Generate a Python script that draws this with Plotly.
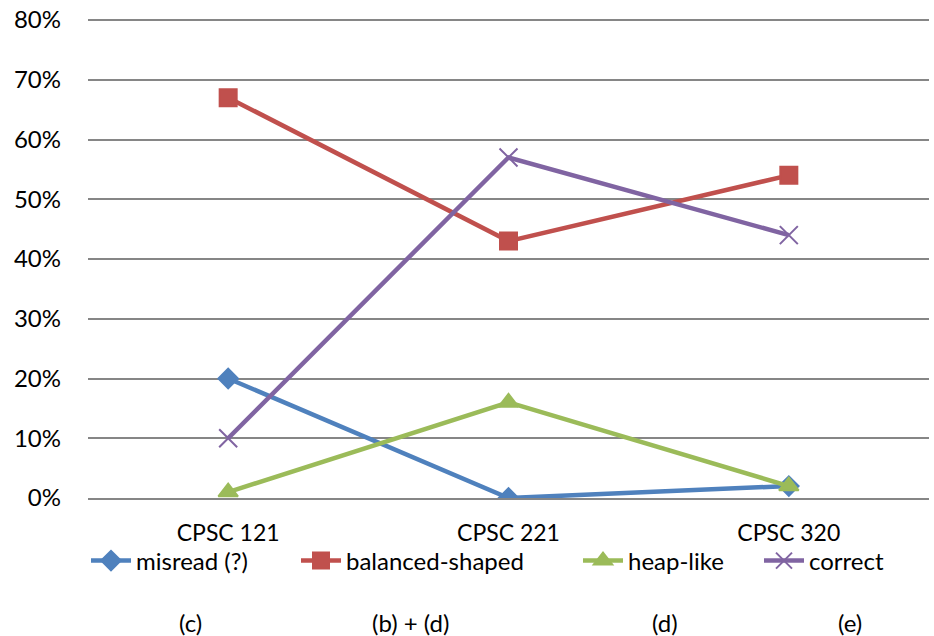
import plotly.graph_objects as go

categories = ["CPSC 121", "CPSC 221", "CPSC 320"]
series_names = ["misread (?)", "balanced-shaped", "heap-like", "correct"]
series_sub = ["(c)", "(b) + (d)", "(d)", "(e)"]
misread = [20, 0, 2]
balanced = [67, 43, 54]
heap = [1, 16, 2]
correct = [10, 57, 44]
y_ticks = [0, 10, 20, 30, 40, 50, 60, 70, 80]
y_tick_labels = ["0%", "10%", "20%", "30%", "40%", "50%", "60%", "70%", "80%"]

values = [misread, balanced, heap, correct]
colors = ["#4F81BD", "#C0504D", "#9BBB59", "#8064A2"]
symbols = ["diamond", "square", "triangle-up", "x-thin-open"]
sizes = [15, 17, 17, 18]

FONT = "Lato, 'Open Sans', sans-serif"
FS = 24

W, H = 934, 636
L, R, T = 88, 5, 19
B = H - 498
pw = W - L - R
ph = H - T - B

legend_names = ["legend", "legend2", "legend3", "legend4"]
text_start_px = [137, 347, 629, 810]
sub_px = [190, 410, 665, 850]

fig = go.Figure()
for name, vals, c, s, sz, lg in zip(series_names, values, colors, symbols, sizes, legend_names):
    fig.add_trace(go.Scatter(
        x=categories, y=vals, name=name, mode="lines+markers", legend=lg,
        line=dict(color=c, width=4.5),
        marker=dict(symbol=s, size=sz, color=c, line=dict(color=c, width=2)),
    ))

legends = {}
for lg, tx in zip(legend_names, text_start_px):
    legends[lg] = dict(orientation="h", x=(tx - 51) / W, xref="container", xanchor="left",
                       y=1 - 561 / H, yref="container", yanchor="middle",
                       font=dict(family=FONT, size=FS, color="black"), itemwidth=40,
                       bgcolor="rgba(0,0,0,0)")

for txt, px in zip(series_sub, sub_px):
    fig.add_annotation(text=txt, x=(px - L) / pw, xref="paper", xanchor="center",
                       y=(H - B - 622) / ph, yref="paper", yanchor="middle", showarrow=False,
                       font=dict(family=FONT, size=FS, color="black"))

fig.update_layout(
    width=W, height=H,
    margin=dict(l=L, r=R, t=T, b=B),
    paper_bgcolor="white", plot_bgcolor="white",
    font=dict(family=FONT, size=FS, color="black"),
    showlegend=True,
    xaxis=dict(range=[-0.5, 2.5], showgrid=False, showline=True, linecolor="#868686", linewidth=1.5,
               ticks="", ticklabelstandoff=14, automargin=False, ticklabeloverflow="allow",
               tickfont=dict(family=FONT, size=23)),
    yaxis=dict(range=[0, 80.17], tickvals=y_ticks, ticktext=y_tick_labels, showgrid=True,
               gridcolor="#868686", gridwidth=1.5, showline=False, zeroline=False, ticks="",
               ticklabelstandoff=26, automargin=False, ticklabeloverflow="allow",
               tickfont=dict(family=FONT, size=FS)),
    **legends,
)

fig.write_html("out.html", post_script="document.body.style.margin='0';",
               config={"displayModeBar": False})
